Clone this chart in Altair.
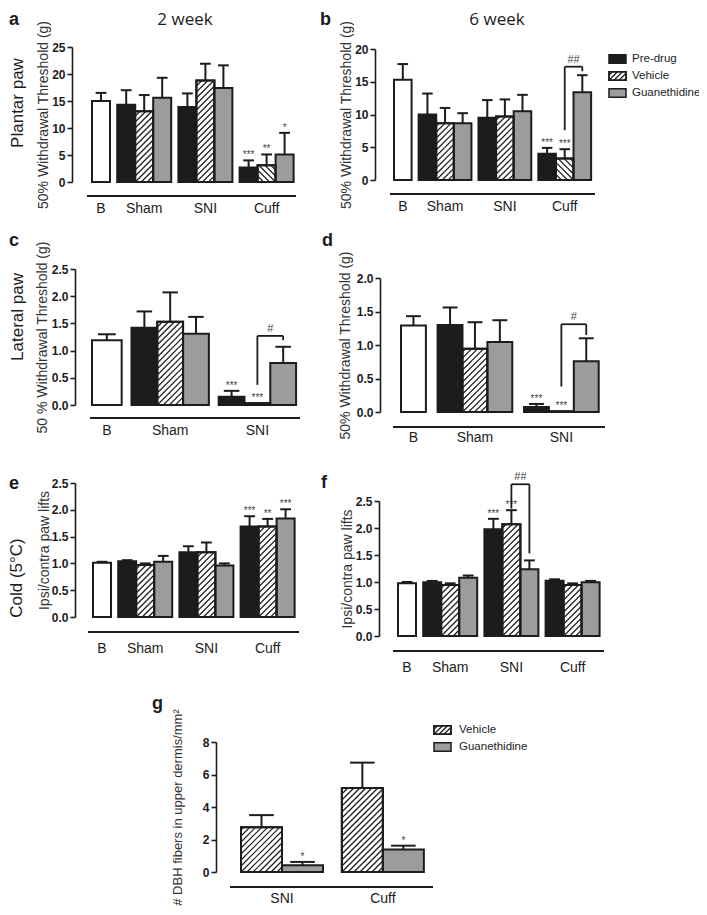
import altair as alt
import pandas as pd

FONT = "Liberation Sans"
TFONT = "Open Sans"
INK = "#1c1c1c"
GREY = "#9c9c9c"
M = 8  # page margin

TREATS = ["Baseline", "Pre-drug", "Vehicle", "Guanethidine"]
TREAT_FILL = ["#ffffff", INK, "#ffffff", GREY]
DRUGS = ["Pre-drug", "Vehicle", "Guanethidine"]

# ---------------- data ----------------
groups4 = ["B", "Sham", "SNI", "Cuff"]
groups3 = ["B", "Sham", "SNI"]

a_mean = [15.0, 14.3, 13.1, 15.6, 13.9, 18.8, 17.4, 2.7, 3.1, 5.1]
a_sem = [1.5, 2.7, 3.0, 3.7, 2.5, 3.1, 4.2, 1.3, 2.0, 4.0]
a_sig = ["", "", "", "", "", "", "", "***", "**", "*"]

b_mean = [15.3, 10.0, 8.65, 8.65, 9.5, 9.7, 10.5, 4.0, 3.3, 13.4]
b_sem = [2.4, 3.2, 2.35, 1.55, 2.7, 2.6, 2.5, 0.9, 1.4, 2.6]
b_sig = ["", "", "", "", "", "", "", "***", "***", ""]
b_bracket = [8, 9, 7.6, 17.3, 16.6, "##"]

c_mean = [1.19, 1.42, 1.53, 1.31, 0.15, 0.03, 0.77]
c_sem = [0.11, 0.30, 0.54, 0.31, 0.11, 0.0, 0.30]
c_sig = ["", "", "", "", "***", "***", ""]
c_bracket = [5, 6, 0.37, 1.27, 1.19, "#"]

d_mean = [1.29, 1.30, 0.945, 1.045, 0.075, 0.01, 0.756]
d_sem = [0.14, 0.26, 0.395, 0.325, 0.045, 0.0, 0.344]
d_sig = ["", "", "", "", "***", "***", ""]
d_bracket = [5, 6, 0.38, 1.31, 1.15, "#"]

e_mean = [1.01, 1.04, 0.97, 1.03, 1.21, 1.21, 0.96, 1.69, 1.69, 1.84]
e_sem = [0.02, 0.02, 0.03, 0.11, 0.11, 0.18, 0.04, 0.19, 0.14, 0.17]
e_sig = ["", "", "", "", "", "", "", "***", "**", "***"]

f_mean = [0.975, 0.994, 0.944, 1.08, 1.975, 2.07, 1.235, 1.025, 0.944, 0.994]
f_sem = [0.025, 0.026, 0.031, 0.04, 0.195, 0.26, 0.165, 0.025, 0.031, 0.026]
f_sig = ["", "", "", "", "***", "***", "", "", "", ""]
f_bracket = [5, 6, 2.36, 2.81, 1.53, "##"]

g_groups = ["SNI", "Cuff"]
g_treats = ["Vehicle", "Guanethidine"]
g_mean = [2.75, 0.41, 5.17, 1.39]
g_sem = [0.75, 0.21, 1.56, 0.23]
g_sig = ["", "*", "", "*"]

ONE = pd.DataFrame({"k": [0]})


def build_rows(groups, treats, means, sems, sigs, bw, gap, cap=0.6):
    rows, centers = [], []
    pos, k = 0.0, 0
    for gi, g in enumerate(groups):
        if gi > 0:
            pos += gap
        start = pos
        trs = ["Baseline"] if g == "B" else treats
        for t in trs:
            w = bw if g == "B" else 1.0
            m, s = means[k], sems[k]
            rows.append(dict(idx=k, group=g, treat=t, x0=pos, x1=pos + w, xc=pos + w / 2,
                             cl=pos + w / 2 - cap * w / 2, cr=pos + w / 2 + cap * w / 2,
                             mean=m, top=m + s, sig=sigs[k]))
            pos += w
            k += 1
        centers.append(dict(group=g, xc=(start + pos) / 2))
    return pd.DataFrame(rows), pd.DataFrame(centers), pos


def hatch(x0, x1, yb, yt, ux, uy, step=6.0, reverse=False):
    w = (x1 - x0) * ux
    h = (yt - yb) * uy
    segs = []
    if w <= 0 or h <= 1.0:
        return segs
    k = -int(w // step) - 1
    while k * step < h:
        c = k * step
        xs_ = max(0.0, -c)
        xe_ = min(w, h - c)
        if xe_ - xs_ > 0.3:
            p0 = [xs_, xs_ + c]
            p1 = [xe_, xe_ + c]
            if reverse:
                p0[0] = w - p0[0]
                p1[0] = w - p1[0]
            segs.append(dict(hx=x0 + p0[0] / ux, hy=yb + p0[1] / uy,
                             hx2=x0 + p1[0] / ux, hy2=yb + p1[1] / uy))
        k += 1
    return segs


def panel(groups, treats, means, sems, sigs, L, title, ticks, fmt, bracket=None, rev=(), tsize=14):
    df, centers, N = build_rows(groups, treats, means, sems, sigs, L["bw"], L["gap"])
    ux = L["unit"]
    uy = (L["y0"] - L["ytop"]) / L["ymax"]
    xs = alt.Scale(domain=[0, N], range=[L["bar0"] - M, L["bar0"] - M + ux * N], nice=False, zero=False)
    ys = alt.Scale(domain=[0, L["ymax"]], range=[L["y0"] - M, L["ytop"] - M], nice=False, zero=False)
    yaxis = alt.Axis(orient="left", offset=-(L["axis_x"] - M), values=ticks, format=fmt, title=title,
                     grid=False, domainColor=INK, domainWidth=1.6, tickColor=INK, tickWidth=1.6,
                     tickSize=5, labelPadding=2, labelFont=FONT, labelFontSize=12,
                     labelFontWeight="bold", labelColor=INK, titleFont=FONT, titleFontSize=tsize,
                     titleFontWeight="normal", titleColor="#333333", titleAngle=270,
                     titleBaseline="middle", titleAlign="center",
                     titleX=L["tx"] - L["axis_x"], titleY=(L["y0"] + L["ytop"]) / 2 - M,
                     minExtent=0)
    X = lambda f: alt.X(f, scale=xs, axis=None)
    Y = lambda f: alt.Y(f, scale=ys, axis=None)

    bars = alt.Chart(df).mark_rect(stroke=INK, strokeWidth=2).encode(
        x=alt.X("x0:Q", scale=xs, axis=None), x2="x1:Q",
        y=alt.Y("mean:Q", scale=ys, axis=yaxis), y2=alt.datum(0),
        fill=alt.Fill("treat:N", scale=alt.Scale(domain=TREATS, range=TREAT_FILL), legend=None))

    segs = []
    for r in df.itertuples():
        if r.treat == "Vehicle":
            segs += hatch(r.x0, r.x1, 0.0, r.mean, ux, uy, reverse=(r.idx in rev))
    layers = [bars]
    if segs:
        hd = pd.DataFrame(segs)
        layers.append(alt.Chart(hd).mark_rule(stroke=INK, strokeWidth=1.2).encode(
            x=X("hx:Q"), x2="hx2:Q", y=Y("hy:Q"), y2="hy2:Q"))
        vd = df[df.treat == "Vehicle"]
        layers.append(alt.Chart(vd).mark_rect(fill="transparent", stroke=INK, strokeWidth=2).encode(
            x=X("x0:Q"), x2="x1:Q", y=Y("mean:Q"), y2=alt.datum(0)))

    ed = df[df.top > df["mean"] + 1e-9]
    layers.append(alt.Chart(ed).mark_rule(stroke=INK, strokeWidth=2).encode(
        x=X("xc:Q"), y=Y("mean:Q"), y2="top:Q"))
    layers.append(alt.Chart(ed).mark_rule(stroke=INK, strokeWidth=2).encode(
        x=X("cl:Q"), x2="cr:Q", y=Y("top:Q")))

    sd = df[df.sig != ""]
    layers.append(alt.Chart(sd).mark_text(baseline="bottom", fontSize=10, font=FONT, color="#444444").encode(
        x=X("xc:Q"), y=Y("top:Q"), text="sig:N"))

    if bracket:
        i0, i1, yl, yt, yr, lab = bracket
        bd = pd.DataFrame([dict(xl=df.xc[i0], xr=df.xc[i1], xm=(df.xc[i0] + df.xc[i1]) / 2,
                                yl=yl, yt=yt, yr=yr, lab=lab)])
        bc = alt.Chart(bd)
        layers.append(bc.mark_rule(stroke=INK, strokeWidth=1.8).encode(x=X("xl:Q"), y=Y("yl:Q"), y2="yt:Q"))
        layers.append(bc.mark_rule(stroke=INK, strokeWidth=1.8).encode(x=X("xl:Q"), x2="xr:Q", y=Y("yt:Q")))
        layers.append(bc.mark_rule(stroke=INK, strokeWidth=1.8).encode(x=X("xr:Q"), y=Y("yr:Q"), y2="yt:Q"))
        layers.append(bc.mark_text(baseline="bottom", dy=-2, fontSize=11, font=FONT, color="#444444").encode(
            x=X("xm:Q"), y=Y("yt:Q"), text="lab:N"))

    layers.append(alt.Chart(ONE).mark_rule(stroke=INK, strokeWidth=2).encode(
        x=alt.value(L["bx0"] - M), x2=alt.value(L["bx1"] - M), y=alt.value(L["by"] - M)))
    layers.append(alt.Chart(centers).mark_text(fontSize=14, font=FONT, baseline="middle", color=INK).encode(
        x=X("xc:Q"), y=alt.value(L["ly"] - M), text="group:N"))
    return layers


def legend(items, L):
    n = len(items)
    df = pd.DataFrame(dict(treat=items, i=list(range(n))))
    df["sx0"] = 0.0
    df["sx1"] = 1.0
    df["yt"] = df.i + 0.25
    df["yb"] = df.i + 0.75
    df["ym"] = df.i + 0.5
    xs = alt.Scale(domain=[0, 1], range=[L["x"] - M, L["x"] - M + L["w"]], nice=False, zero=False)
    ys = alt.Scale(domain=[0, n], range=[L["y"] - M, L["y"] - M + L["row"] * n], nice=False, zero=False)
    rects = alt.Chart(df).mark_rect(stroke=INK, strokeWidth=1.5).encode(
        x=alt.X("sx0:Q", scale=xs, axis=None), x2="sx1:Q",
        y=alt.Y("yt:Q", scale=ys, axis=None), y2="yb:Q",
        fill=alt.Fill("treat:N", scale=alt.Scale(domain=TREATS, range=TREAT_FILL), legend=None))
    segs = []
    for r in df.itertuples():
        if r.treat == "Vehicle":
            segs += hatch(0.0, 1.0, r.yb, r.yt, L["w"], -L["row"], step=5.0)
    hd = pd.DataFrame(segs)
    hl = alt.Chart(hd).mark_rule(stroke=INK, strokeWidth=1.3).encode(
        x=alt.X("hx:Q", scale=xs, axis=None), x2="hx2:Q",
        y=alt.Y("hy:Q", scale=ys, axis=None), y2="hy2:Q")
    outl = alt.Chart(df[df.treat == "Vehicle"]).mark_rect(fill="transparent", stroke=INK, strokeWidth=1.5).encode(
        x=alt.X("sx0:Q", scale=xs, axis=None), x2="sx1:Q",
        y=alt.Y("yt:Q", scale=ys, axis=None), y2="yb:Q")
    txt = alt.Chart(df).mark_text(align="left", baseline="middle", fontSize=11.5, font=FONT, color=INK).encode(
        x=alt.value(L["tx"] - M), y=alt.Y("ym:Q", scale=ys, axis=None), text="treat:N")
    return [rects, hl, outl, txt]


def label(text, x, y, size, weight="normal", angle=0, align="left", baseline="alphabetic", font=FONT):
    return alt.Chart(ONE).mark_text(text=text, fontSize=size, fontWeight=weight, angle=angle, align=align,
                                    baseline=baseline, font=font, color=INK).encode(
        x=alt.value(x - M), y=alt.value(y - M))


WT = "50% Withdrawal Threshold (g)"
LA = dict(axis_x=72, bar0=92, unit=18.0, bw=1.0, gap=0.4, y0=182, ytop=47, ymax=25,
          bx0=87, bx1=296, by=196, ly=209, tx=43)
LB = dict(axis_x=375, bar0=394, unit=17.6, bw=1.0, gap=0.4, y0=180, ytop=49, ymax=20,
          bx0=390, bx1=595, by=194, ly=207, tx=346)
LC = dict(axis_x=75, bar0=92, unit=25.8, bw=1.15, gap=0.38, y0=405, ytop=269, ymax=2.5,
          bx0=90, bx1=300, by=418, ly=431, tx=42)
LD = dict(axis_x=380, bar0=401, unit=24.9, bw=1.0, gap=0.47, y0=412, ytop=278, ymax=2.0,
          bx0=393, bx1=605, by=427, ly=438, tx=345)
LE = dict(axis_x=75, bar0=93, unit=18.0, bw=1.0, gap=0.4, y0=617, ytop=483, ymax=2.5,
          bx0=88, bx1=299, by=632, ly=649, tx=44)
LF = dict(axis_x=379, bar0=398, unit=18.0, bw=1.0, gap=0.4, y0=636, ytop=501, ymax=2.5,
          bx0=393, bx1=604, by=651, ly=668, tx=347)
LG = dict(axis_x=216, bar0=241, unit=41.0, bw=1.0, gap=0.46, y0=872, ytop=742, ymax=8,
          bx0=230, bx1=433, by=887, ly=899, tx=177)

t25 = [0, 5, 10, 15, 20, 25]
t20 = [0, 5, 10, 15, 20]
t2_5 = [0, 0.5, 1.0, 1.5, 2.0, 2.5]
t2_0 = [0, 0.5, 1.0, 1.5, 2.0]

all_layers = []
all_layers += panel(groups4, DRUGS, a_mean, a_sem, a_sig, LA, WT, t25, "d", rev=(8,))
all_layers += panel(groups4, DRUGS, b_mean, b_sem, b_sig, LB, WT, t20, "d", bracket=b_bracket, rev=(8,))
all_layers += panel(groups3, DRUGS, c_mean, c_sem, c_sig, LC, "50 % Withdrawal Threshold (g)", t2_5, ".1f",
                    bracket=c_bracket)
all_layers += panel(groups3, DRUGS, d_mean, d_sem, d_sig, LD, WT, t2_0, ".1f", bracket=d_bracket)
all_layers += panel(groups4, DRUGS, e_mean, e_sem, e_sig, LE, "Ipsi/contra paw lifts", t2_5, ".1f")
all_layers += panel(groups4, DRUGS, f_mean, f_sem, f_sig, LF, "Ipsi/contra paw lifts", t2_5, ".1f",
                    bracket=f_bracket)
all_layers += panel(g_groups, g_treats, g_mean, g_sem, g_sig, LG, "# DBH fibers in upper dermis/mm²",
                    [0, 2, 4, 6, 8], "d", tsize=13)
all_layers += legend(DRUGS, dict(x=609, w=17, y=50.5, row=17, tx=632))
all_layers += legend(g_treats, dict(x=434, w=17, y=721.5, row=17, tx=459))

all_layers += [
    label("a", 9, 20, 18, "bold", baseline="middle"), label("b", 320, 20, 18, "bold", baseline="middle"),
    label("c", 9, 241, 18, "bold", baseline="middle"), label("d", 322, 241, 18, "bold", baseline="middle"),
    label("e", 9, 484, 18, "bold", baseline="middle"), label("f", 321, 483, 18, "bold", baseline="middle"),
    label("g", 152, 704, 18, "bold", baseline="middle"),
    label("2 week", 185, 25, 17, align="center", font=TFONT),
    label("6 week", 497, 25, 17, align="center", font=TFONT),
    label("Plantar paw", 18, 103, 17, angle=270, align="center", baseline="middle"),
    label("Lateral paw", 18, 317, 17, angle=270, align="center", baseline="middle"),
    label("Cold (5°C)", 17, 578, 17, angle=270, align="center", baseline="middle"),
]

chart = alt.layer(*all_layers).resolve_scale(
    x="independent", y="independent"
).properties(
    width=691, height=899, autosize=alt.AutoSizeParams(type="none"), padding=0
).configure_view(stroke=None)

chart.save("out.html", embed_options={"renderer": "svg", "actions": False})
